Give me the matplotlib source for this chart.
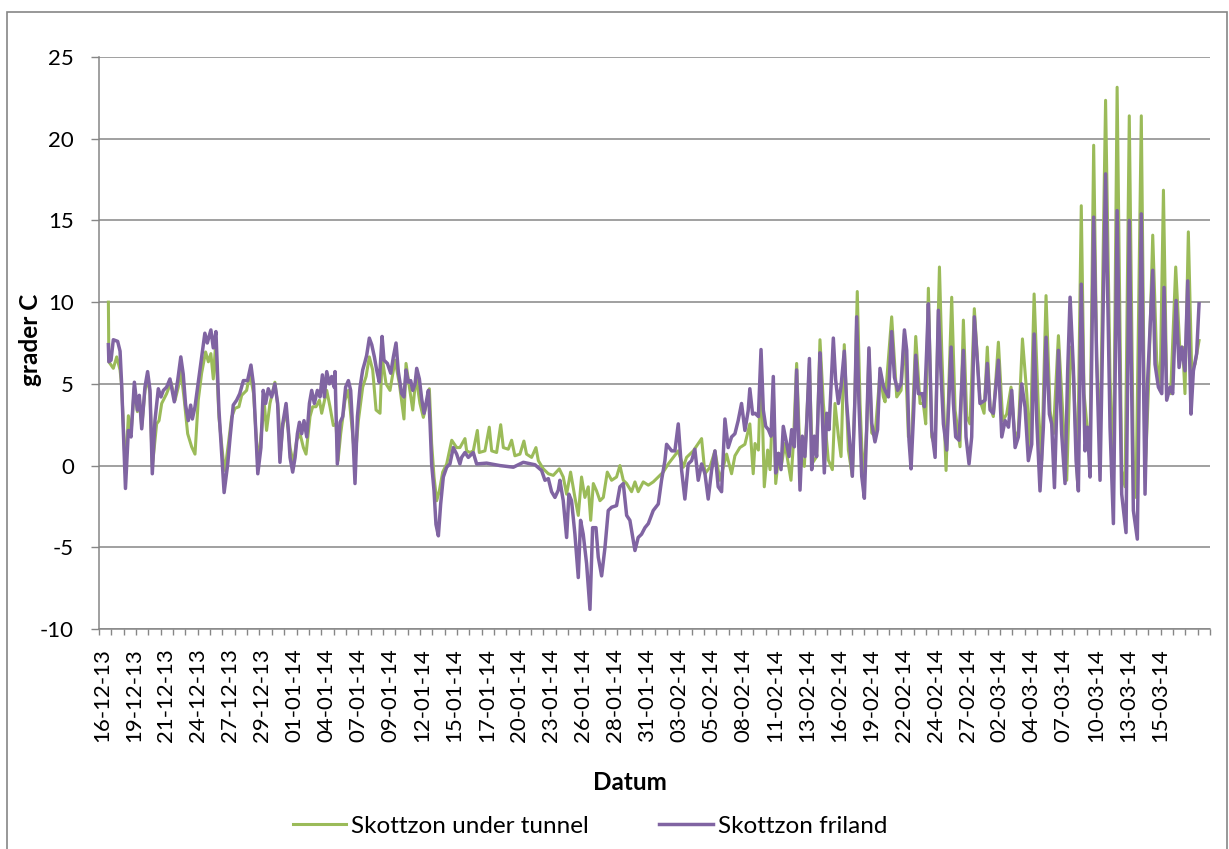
import matplotlib.pyplot as plt
from matplotlib.patches import Rectangle
import numpy as np

plt.rcParams['font.family'] = ['Lato', 'DejaVu Sans']
plt.rcParams['axes.unicode_minus'] = False

# x-axis category labels (one every 64 hours)
date_labels = ["16-12-13", "19-12-13", "21-12-13", "24-12-13", "27-12-13", "29-12-13",
               "01-01-14", "04-01-14", "07-01-14", "09-01-14", "12-01-14", "15-01-14",
               "17-01-14", "20-01-14", "23-01-14", "26-01-14", "28-01-14", "31-01-14",
               "03-02-14", "05-02-14", "08-02-14", "11-02-14", "13-02-14", "16-02-14",
               "19-02-14", "22-02-14", "24-02-14", "27-02-14", "02-03-14", "04-03-14",
               "07-03-14", "10-03-14", "13-03-14", "15-03-14"]

# (day from axis start, grader C)
tunnel_points = [
    (0.78, 10.0), (0.82, 6.35), (1.19, 5.95), (1.47, 6.65), (1.75, 5.85), (1.88, 4.9), (2.2, -0.5),
    (2.44, 3.05), (2.66, 1.95), (2.94, 4.8), (3.19, 3.3), (3.35, 4.2), (3.55, 2.35), (3.82, 4.6),
    (4.04, 5.3), (4.24, 4.4), (4.43, -0.1), (4.79, 2.55), (4.99, 2.75), (5.21, 3.8), (5.62, 4.4),
    (5.98, 5.1), (6.32, 4.0), (6.59, 4.8), (6.8, 5.85), (7.09, 4.0), (7.37, 1.95), (7.7, 1.15),
    (7.98, 0.7), (8.25, 4.0), (8.53, 5.65), (8.86, 6.95), (9.09, 6.35), (9.3, 6.85), (9.5, 5.3),
    (9.7, 7.5), (9.97, 2.95), (10.33, 0.3), (10.47, -0.3), (10.75, 1.3), (11.02, 2.95), (11.3, 3.5),
    (11.63, 3.6), (11.86, 4.3), (12.27, 4.6), (12.55, 5.65), (12.85, 4.4), (13.2, 0.1), (13.52, 2.15),
    (13.74, 3.8), (13.93, 2.15), (14.21, 3.8), (14.62, 5.1), (14.9, 3.4), (15.1, 0.9),
    (15.27, 2.35), (15.55, 3.4), (15.88, 1.1), (16.16, 0.1), (16.43, 1.55), (16.71, 1.95), (16.99, 1.1),
    (17.21, 0.7), (17.54, 3.0), (17.76, 3.6), (18.04, 3.6), (18.32, 4.0), (18.51, 3.2), (18.93, 4.6),
    (19.2, 3.6), (19.48, 2.45), (19.7, 2.55), (19.87, 0.3), (20.09, 1.95), (20.45, 4.0), (20.73, 4.6),
    (21.0, 2.55), (21.28, 0.3), (21.56, 2.75), (21.92, 4.8), (22.2, 5.45), (22.47, 6.65), (22.75, 5.85),
    (23.03, 3.4), (23.36, 3.2), (23.53, 6.65), (23.86, 5.0), (24.19, 4.6), (24.61, 6.45), (24.97, 5.0),
    (25.35, 2.85), (25.52, 6.25), (25.8, 4.8), (26.08, 3.4), (26.35, 5.45), (26.68, 3.8), (26.96, 2.95),
    (27.24, 3.8), (27.46, 4.7), (27.65, 1.35), (27.85, -0.7), (28.07, -2.15), (28.29, -1.55),
    (28.57, -0.4), (28.9, 0.1), (29.32, 1.55), (29.73, 1.1),
    (30.0, 1.1), (30.42, 1.65), (30.56, 0.9), (30.84, 0.8), (31.11, 0.9), (31.45, 2.15), (31.61, 0.8),
    (32.08, 0.9), (32.44, 2.35), (32.64, 0.9), (33.05, 0.8), (33.39, 2.5), (33.61, 1.1), (34.02, 1.0),
    (34.3, 1.55), (34.57, 0.6), (34.99, 0.7), (35.32, 1.5), (35.54, 0.7), (35.96, 0.5), (36.32, 1.1),
    (36.52, 0.3), (36.93, -0.2), (37.35, -0.5), (37.76, -0.6), (38.26, -0.2), (38.59, -0.7),
    (38.87, -1.75), (39.2, -0.4), (39.56, -1.95), (39.84, -3.05), (40.11, -0.7), (40.39, -1.95),
    (40.67, -1.3), (40.87, -3.35), (41.09, -1.1), (41.36, -1.55), (41.64, -2.15), (41.92, -1.95),
    (42.25, -0.4), (42.61, -0.9), (43.02, -0.7), (43.3, 0.0), (43.58, -0.9), (43.86, -1.1),
    (44.27, -1.6), (44.55, -1.0), (44.82, -1.6), (45.24, -1.0), (45.66, -1.2), (46.07, -1.0),
    (46.49, -0.7), (46.9, -0.4), (47.32, 0.1), (47.73, 0.5), (48.15, 0.9), (48.57, -0.1), (48.84, 0.5),
    (49.4, 0.9), (50.09, 1.65), (50.37, -0.5), (50.78, -0.1), (51.2, 0.9), (51.61, -0.9), (52.17, 0.7),
    (52.58, -0.5), (52.86, 0.6), (53.27, 1.1), (53.69, 1.3), (54.1, 2.55), (54.38, -0.5),
    (54.53, 1.35), (54.81, 0.95), (55.03, 6.25), (55.3, -1.3), (55.58, 0.95), (55.78, -0.25),
    (56.05, 4.65), (56.25, -1.1), (56.52, 0.75), (56.75, 0.15), (57.02, 1.35), (57.52, -0.9),
    (57.72, 1.35), (57.99, 6.25), (58.27, 0.55), (58.63, -0.05), (59.05, 6.25), (59.3, 0.15),
    (59.65, 0.55), (59.93, 7.7), (60.21, 3.8), (60.62, 0.35), (60.96, -0.25), (61.18, 3.8), (61.46, 1.8),
    (61.68, 0.55), (61.95, 7.4), (62.29, 0.95), (62.62, -0.65), (62.84, 4.45), (63.03, 10.65),
    (63.26, 3.8), (63.53, -1.1), (63.81, 2.2), (64.0, 7.1), (64.23, 2.0), (64.5, 1.8), (64.92, 5.65),
    (65.2, 4.2),
    (65.34, 3.9), (65.89, 9.1), (66.31, 4.2), (66.67, 4.6), (66.95, 8.1), (67.28, 1.75), (67.56, 1.75),
    (67.89, 7.9), (68.25, 3.8), (68.52, 3.8), (68.72, 2.55), (68.94, 10.85), (69.22, 1.75), (69.5, 1.15),
    (69.86, 12.15), (70.05, 7.05), (70.41, -0.3), (70.88, 10.3), (71.16, 3.4), (71.57, 1.15),
    (71.85, 8.9), (72.13, 3.0), (72.4, 2.55), (72.76, 9.6), (73.23, 4.0), (73.57, 3.2), (73.84, 7.25),
    (74.07, 3.6), (74.34, 3.0), (74.76, 7.55),
    (75.12, 2.75), (75.45, 3.15), (75.81, 4.8), (76.15, 1.55), (76.42, 2.15), (76.76, 7.75),
    (77.12, 4.4), (77.39, 0.9), (77.73, 10.5), (78.09, 3.35), (78.36, 0.3), (78.72, 10.4), (79.06, 3.35),
    (79.33, 1.95), (79.75, 7.95), (80.16, 2.55), (80.44, -0.9), (80.77, 7.25), (80.99, 5.8),
    (81.33, -0.9), (81.65, 15.9), (81.88, 4.4), (82.16, 2.15), (82.38, 1.35), (82.68, 19.6),
    (82.93, 6.65), (83.21, 1.1), (83.67, 22.35), (84.04, 5.4), (84.32, -1.0), (84.63, 23.15),
    (85.01, -0.3), (85.29, -1.3), (85.64, 21.4), (85.98, 0.3), (86.2, -1.95), (86.64, 21.4),
    (86.95, -0.7), (87.23, 4.6), (87.59, 14.1), (87.92, 6.45), (88.2, 4.6), (88.48, 16.85), (88.75, 4.8),
    (89.08, 4.4), (89.5, 12.15), (89.86, 6.85), (90.08, 7.25), (90.27, 4.4), (90.55, 14.3), (90.83, 5.8),
    (91.1, 6.2), (91.44, 7.65),
]

friland_points = [
    (0.78, 7.4), (0.82, 6.35), (1.0, 6.45), (1.19, 7.7), (1.55, 7.6), (1.75, 7.0), (1.88, 5.0),
    (2.2, -1.4), (2.44, 2.15), (2.66, 1.75), (2.94, 5.1), (3.19, 3.4), (3.35, 4.3), (3.55, 2.25),
    (3.82, 4.8), (4.04, 5.75), (4.24, 4.6), (4.43, -0.5), (4.65, 2.75), (4.93, 4.7), (5.15, 4.2),
    (5.35, 4.6), (5.62, 4.8), (5.9, 5.3), (6.26, 3.9), (6.54, 5.2), (6.8, 6.65), (7.0, 5.6), (7.2, 3.7),
    (7.42, 2.75), (7.62, 3.7), (7.76, 2.85), (7.98, 3.6), (8.2, 4.8), (8.53, 6.65), (8.8, 8.1),
    (9.0, 7.5), (9.3, 8.3), (9.5, 7.2), (9.72, 8.2), (9.97, 3.4), (10.25, 0.1), (10.4, -1.65),
    (10.7, 0.1), (10.9, 1.75), (11.16, 3.7), (11.44, 4.0), (11.7, 4.4), (12.0, 5.2), (12.35, 5.2),
    (12.63, 6.15), (12.85, 4.9), (13.2, -0.5), (13.46, 1.1), (13.65, 4.6), (13.85, 3.8), (14.07, 4.7),
    (14.35, 4.2), (14.62, 5.0), (14.85, 3.8), (15.04, 0.2),
    (15.27, 2.55), (15.55, 3.8), (15.74, 2.15), (15.88, 0.5), (16.1, -0.4), (16.3, 0.5), (16.49, 1.95),
    (16.66, 2.65), (16.85, 1.95), (17.04, 2.75), (17.27, 1.75), (17.49, 3.8), (17.68, 4.6), (17.9, 3.8),
    (18.15, 4.6), (18.37, 4.2), (18.57, 5.55), (18.73, 4.2), (18.93, 5.75), (19.15, 5.0), (19.34, 5.45),
    (19.54, 4.8), (19.62, 5.75), (19.81, 0.1), (20.04, 2.65), (20.26, 3.0), (20.5, 4.8), (20.73, 5.2),
    (20.92, 4.6), (21.09, 2.15), (21.28, -1.1), (21.48, 3.0), (21.7, 4.8), (21.92, 5.85), (22.11, 6.35),
    (22.25, 6.75), (22.47, 7.8), (22.67, 7.4), (22.89, 6.65), (23.08, 5.85), (23.3, 5.1), (23.53, 7.9),
    (23.69, 6.45), (23.97, 6.25), (24.25, 5.65), (24.47, 6.65), (24.69, 7.5), (24.88, 5.75),
    (25.16, 4.4), (25.35, 4.2), (25.52, 5.85), (25.72, 5.1), (25.91, 5.2), (26.08, 4.6), (26.27, 5.0),
    (26.41, 5.95), (26.63, 5.3), (26.82, 4.1), (27.02, 3.2), (27.18, 3.8), (27.38, 4.6), (27.52, 2.55),
    (27.65, 0.1), (27.85, -1.55), (28.01, -3.6), (28.21, -4.3), (28.4, -2.35), (28.62, -0.7),
    (28.9, -0.1), (29.17, 0.1), (29.45, 1.1), (29.73, 0.7), (30.0, 0.1),
    (30.14, 0.5), (30.42, 0.8), (30.7, 0.5), (31.11, 0.8), (31.39, 0.1), (32.22, 0.15), (33.33, 0.0),
    (34.44, -0.1), (35.27, 0.2), (36.24, 0.05), (36.79, -0.3), (37.07, -0.9), (37.35, -0.8),
    (37.62, -1.6), (37.9, -1.95), (38.18, -1.5), (38.31, -0.9), (38.59, -2.15), (38.87, -4.4),
    (39.06, -1.75), (39.28, -2.15), (39.56, -4.2), (39.84, -6.85), (40.03, -3.35), (40.25, -4.2),
    (40.53, -6.0), (40.81, -8.8), (41.03, -3.8), (41.31, -3.8), (41.5, -5.6), (41.78, -6.75),
    (42.06, -5.0), (42.33, -2.75), (42.61, -2.55), (43.02, -2.45), (43.3, -1.3), (43.58, -1.1),
    (43.86, -3.05), (44.13, -3.35), (44.55, -5.2), (44.82, -4.4), (45.1, -4.2), (45.38, -3.8),
    (45.66, -3.55), (46.07, -2.75), (46.49, -2.35), (46.76, -0.9), (47.04, 0.3), (47.18, 1.3),
    (47.6, 0.9), (47.87, 0.9), (48.15, 2.55), (48.43, -0.3), (48.7, -2.05), (48.98, 0.1), (49.26, 0.3),
    (49.53, 1.0), (49.81, -0.9), (50.09, 0.1), (50.37, -0.5), (50.64, -2.05), (50.92, -0.3), (51.2, 0.9),
    (51.47, -1.3), (51.75, -1.6), (52.03, 2.85), (52.3, 1.1), (52.58, 1.75), (52.86, 1.95), (53.13, 2.75),
    (53.41, 3.8), (53.69, 2.15), (53.96, 3.35), (54.1, 4.7), (54.33, 3.15),
    (54.53, 3.2), (54.81, 3.0), (55.03, 7.1), (55.22, 3.4), (55.42, 2.4), (55.64, 2.2), (55.86, 1.8),
    (56.05, 5.45), (56.25, -0.45), (56.47, 0.75), (56.69, -0.25), (56.88, 2.4), (57.16, 1.35),
    (57.36, 0.55), (57.58, 2.2), (57.8, 1.15), (57.99, 5.85), (58.27, -1.5), (58.46, 1.8), (58.68, 0.55),
    (58.82, 2.4), (59.05, 6.55), (59.24, -0.25), (59.46, 1.8), (59.65, 0.55), (59.93, 6.9), (60.07, 4.2),
    (60.29, -0.45), (60.49, 3.2), (60.68, 2.2), (61.04, 7.8), (61.23, 5.25), (61.46, 3.8), (61.68, 4.85),
    (61.95, 7.0), (62.15, 3.8), (62.34, 2.0), (62.62, -0.65), (62.84, 4.2), (62.98, 9.1), (63.17, 3.8),
    (63.4, -0.65), (63.62, -2.0), (63.81, 2.2), (64.0, 7.2), (64.23, 2.6), (64.5, 1.45), (64.72, 2.2),
    (64.92, 5.95), (65.2, 4.85),
    (65.34, 4.6), (65.62, 4.2), (65.89, 8.2), (66.12, 5.4), (66.39, 4.6), (66.67, 5.0), (66.95, 8.3),
    (67.14, 7.05), (67.33, 1.55), (67.5, -0.2), (67.7, 3.0), (67.89, 6.75), (68.11, 4.4), (68.44, 4.4),
    (68.61, 3.6), (68.8, 7.05), (68.94, 9.9), (69.22, 2.15), (69.5, 0.5), (69.77, 9.5), (70.0, 5.45),
    (70.19, 2.55), (70.47, 0.95), (70.83, 7.25), (71.02, 3.8), (71.21, 1.75), (71.49, 1.55), (71.85, 7.05),
    (72.07, 1.75), (72.32, 0.1), (72.54, 1.75), (72.76, 9.1), (72.99, 6.65), (73.23, 3.8), (73.65, 4.0),
    (73.84, 6.25), (74.07, 3.4), (74.34, 3.2), (74.76, 6.45),
    (75.04, 1.75), (75.32, 2.75), (75.6, 2.35), (75.87, 4.6), (76.15, 1.1), (76.42, 1.75), (76.7, 5.0),
    (76.98, 3.55), (77.25, 0.3), (77.53, 1.3), (77.73, 8.05), (77.95, 2.75), (78.22, -1.55), (78.5, 2.35),
    (78.72, 7.85), (79.0, 3.15), (79.19, 2.55), (79.42, -1.35), (79.75, 7.05), (80.02, 1.95), (80.3, -1.1),
    (80.52, 5.8), (80.72, 10.3), (80.99, 6.0), (81.22, 0.3), (81.41, -1.55), (81.65, 11.1), (81.96, 0.9),
    (82.16, 2.35), (82.38, -0.7), (82.68, 15.2), (82.93, 6.45), (83.21, -0.9), (83.67, 17.85),
    (84.04, 2.35), (84.32, -3.55), (84.63, 15.6), (85.01, -1.75), (85.37, -4.1), (85.64, 15.0),
    (85.98, -2.75), (86.31, -4.5), (86.64, 15.4), (86.95, -1.75), (87.14, 4.8), (87.37, 8.45),
    (87.59, 11.95), (87.78, 6.2), (88.06, 4.8), (88.34, 4.4), (88.53, 10.9), (88.75, 4.0), (89.03, 4.8),
    (89.25, 4.4), (89.53, 10.1), (89.78, 6.0), (90.0, 7.25), (90.27, 5.8), (90.5, 11.3), (90.77, 3.15),
    (90.97, 5.8), (91.24, 6.85), (91.44, 9.9),
]

tunnel_day, tunnel_temp = np.array(tunnel_points).T
friland_day, friland_temp = np.array(friland_points).T

GREEN = '#9BBB59'
PURPLE = '#8064A2'
GRID = '#868686'
FS_TICK = 16
FS_TEXT = 17.5

fig = plt.figure(figsize=(12.29, 8.49), dpi=100)
ax = fig.add_axes([99 / 1229, 1 - 629 / 849, 1111 / 1229, 572 / 849])

ax.plot(tunnel_day, tunnel_temp, color=GREEN, lw=2.2, label='Skottzon under tunnel')
ax.plot(friland_day, friland_temp, color=PURPLE, lw=2.5, label='Skottzon friland')

x_end = 92.35
ax.set_xlim(0, x_end)
ax.set_ylim(-10, 25)

# y axis
ax.set_yticks(np.arange(-10, 26, 5))
ax.yaxis.grid(True, color=GRID, lw=1.1)
ax.set_axisbelow(True)
ax.tick_params(axis='y', direction='out', length=6, width=1, color=GRID,
               labelsize=FS_TICK, pad=12)

# x axis: labels every 64 h, small ticks between
ax.set_xticks(0.25 + np.arange(len(date_labels)) * 2.665)
ax.set_xticklabels(date_labels, rotation=90, fontsize=FS_TICK)
ax.set_xticks(np.linspace(0, x_end, 91), minor=True)
ax.tick_params(axis='x', which='major', length=0, pad=14)
ax.tick_params(axis='x', which='minor', direction='out', length=4, width=1, color=GRID)

for side in ('top', 'right'):
    ax.spines[side].set_visible(False)
for side in ('left', 'bottom'):
    ax.spines[side].set_color(GRID)
    ax.spines[side].set_linewidth(1.1)

fig.text(30 / 1229, 1 - 340 / 849, 'grader C', rotation=90, ha='center', va='center',
         fontsize=FS_TEXT, fontweight='bold')
fig.text(630 / 1229, 1 - 783 / 849, 'Datum', ha='center', va='center',
         fontsize=FS_TEXT, fontweight='bold')

fig.legend(loc='center', bbox_to_anchor=(590 / 1229, 1 - 826 / 849), ncol=2, frameon=False,
           fontsize=FS_TEXT, handlelength=2.2, handletextpad=0.2, columnspacing=2.9)

# chart area border
fig.patches.append(Rectangle((7 / 1229, -0.05), 1220 / 1229, 1 - 12 / 849 + 0.05,
                             transform=fig.transFigure, fill=False, edgecolor=GRID, lw=1.2))

fig.savefig('out.png', dpi=100)
